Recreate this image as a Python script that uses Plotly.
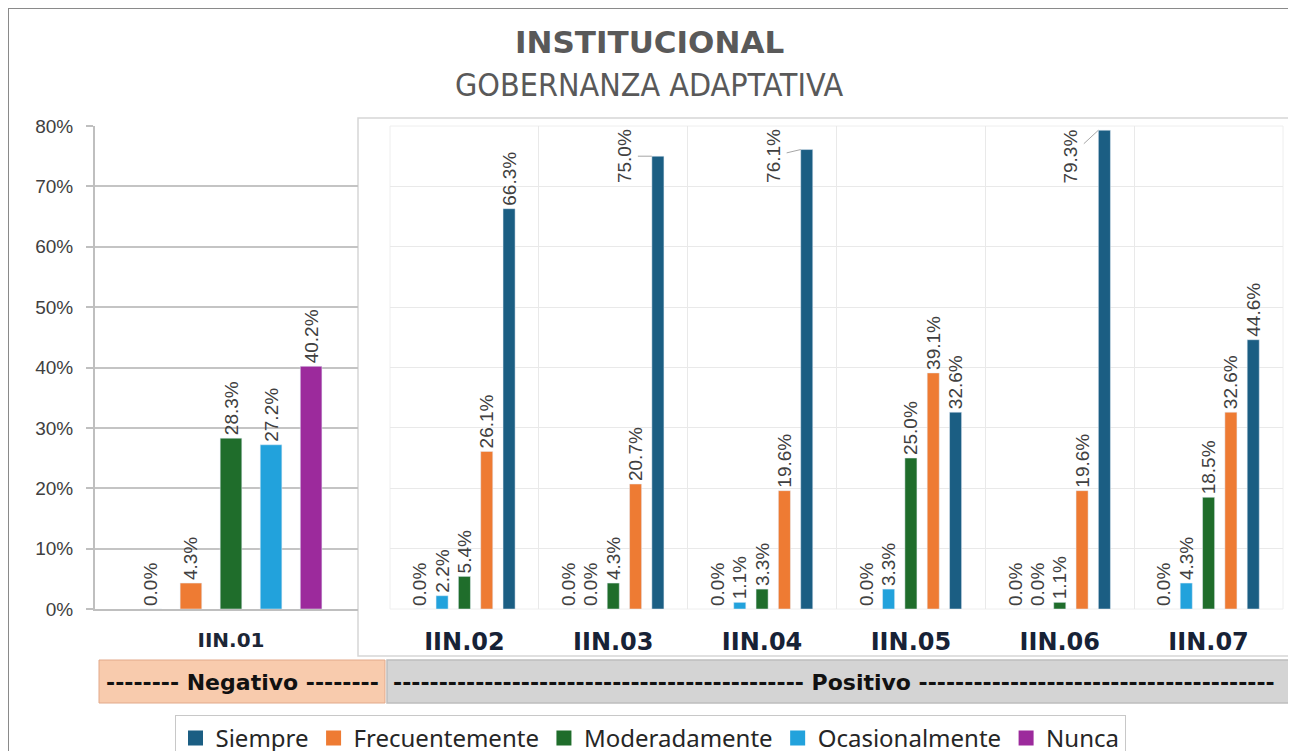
import plotly.graph_objects as go

# page is shown with an 8px body margin, so the figure is sized to the visible area
OFF = 8
W, H = 1296 - OFF, 751 - OFF

# ---------------- data ----------------
series = ["Siempre", "Frecuentemente", "Moderadamente", "Ocasionalmente", "Nunca"]
colors = {"Siempre": "#1b5e83", "Frecuentemente": "#ee7b33", "Moderadamente": "#1f6d2b",
          "Ocasionalmente": "#22a2dc", "Nunca": "#9c2a9c"}

neg_categories = ["IIN.01"]
neg_siempre = [0.000]
neg_frecuentemente = [0.043]
neg_moderadamente = [0.283]
neg_ocasionalmente = [0.272]
neg_nunca = [0.402]

pos_categories = ["IIN.02", "IIN.03", "IIN.04", "IIN.05", "IIN.06", "IIN.07"]
pos_siempre = [0.663, 0.750, 0.761, 0.326, 0.793, 0.446]
pos_frecuentemente = [0.261, 0.207, 0.196, 0.391, 0.196, 0.326]
pos_moderadamente = [0.054, 0.043, 0.033, 0.250, 0.011, 0.185]
pos_ocasionalmente = [0.022, 0.000, 0.011, 0.033, 0.000, 0.043]
pos_nunca = [0.000, 0.000, 0.000, 0.000, 0.000, 0.000]

y_ticks = [0, 0.1, 0.2, 0.3, 0.4, 0.5, 0.6, 0.7, 0.8]

neg_values = {"Siempre": neg_siempre, "Frecuentemente": neg_frecuentemente,
              "Moderadamente": neg_moderadamente, "Ocasionalmente": neg_ocasionalmente,
              "Nunca": neg_nunca}
pos_values = {"Siempre": pos_siempre, "Frecuentemente": pos_frecuentemente,
              "Moderadamente": pos_moderadamente, "Ocasionalmente": pos_ocasionalmente,
              "Nunca": pos_nunca}

# ---------------- layout helpers (reference-window pixels -> paper) ----------------
def fx(px):
    return (px - OFF) / W

def fy(py):
    return 1 - (py - OFF) / H

LABEL_FONT = dict(family="Liberation Sans, Arial, sans-serif", size=19, color="#404040")
BARGAP = 0.25
GROUPGAP = 0.46
HIGH = 0.70  # labels above this go to the left of the bar

def fmt(v):
    return f"{v*100:.1f}%"

fig = go.Figure()

# left panel (negative item): Siempre ... Nunca
for s in series:
    vals = neg_values[s]
    fig.add_trace(go.Bar(
        x=neg_categories, y=vals, name=s, marker_color=colors[s],
        text=[fmt(v) for v in vals], textposition="outside", textangle=-90,
        textfont=LABEL_FONT, cliponaxis=False, constraintext="none",
        xaxis="x", yaxis="y", legendgroup=s, showlegend=False,
        hovertemplate="%{x}<br>" + s + ": %{y:.1%}<extra></extra>"))

# right panel (positive items): Nunca ... Siempre
for s in reversed(series):
    vals = pos_values[s]
    fig.add_trace(go.Bar(
        x=pos_categories, y=vals, name=s, marker_color=colors[s],
        text=[fmt(v) if v < HIGH else "" for v in vals], textposition="outside",
        textangle=-90, textfont=LABEL_FONT, cliponaxis=False, constraintext="none",
        xaxis="x2", yaxis="y2", legendgroup=s, showlegend=False,
        hovertemplate="%{x}<br>" + s + ": %{y:.1%}<extra></extra>"))

# legend entries (square swatches, like the reference legend)
for s in series:
    fig.add_trace(go.Scatter(
        x=[None], y=[None], mode="markers", name=s, legendgroup=s, showlegend=True,
        marker=dict(symbol="square", size=15, color=colors[s]),
        xaxis="x", yaxis="y", hoverinfo="skip"))

# geometry of panels (reference pixels)
LEFT_X0, LEFT_X1 = 95, 358
RIGHT_X0, RIGHT_X1 = 390, 1283
Y_TOP, Y_BOT = 126, 609
left_unit = 267
left_center = 231
ydom = [fy(Y_BOT), fy(Y_TOP)]

# left-pointing labels with leader lines for tall Siempre bars in the right panel
cat_px = (RIGHT_X1 - RIGHT_X0) / len(pos_categories)
slot = (1 - BARGAP) * cat_px / len(series)
siempre_offset = 2 * slot
half_bar = slot * (1 - GROUPGAP) / 2
annotations = []
for c, v in zip(pos_categories, pos_siempre):
    if v >= HIGH:
        annotations.append(dict(
            x=c, y=v, xref="x2", yref="y2", xshift=siempre_offset - half_bar,
            text=fmt(v), textangle=-90, font=LABEL_FONT,
            showarrow=True, arrowhead=0, arrowwidth=1, arrowcolor="#a6a6a6",
            axref="pixel", ayref="y2", ax=-28, ay=0.75, standoff=0, startstandoff=2))

# titles
annotations.append(dict(x=fx(649), y=fy(42), xref="paper", yref="paper", showarrow=False,
                        text="INSTITUCIONAL", xanchor="center", yanchor="middle",
                        font=dict(family="DejaVu Sans, sans-serif", size=31, color="#595959", weight="bold")))
annotations.append(dict(x=fx(649), y=fy(85), xref="paper", yref="paper", showarrow=False,
                        text="GOBERNANZA ADAPTATIVA", xanchor="center", yanchor="middle",
                        font=dict(family="Liberation Sans Narrow, DejaVu Sans Condensed, sans-serif",
                                  size=32, color="#595959")))
# banners text
BANNER_FONT = dict(family="DejaVu Sans, sans-serif", size=22, color="#111111", weight="bold")
annotations.append(dict(x=fx(242), y=fy(682), xref="paper", yref="paper", showarrow=False,
                        text="-------- Negativo --------", xanchor="center", yanchor="middle",
                        font=BANNER_FONT))
annotations.append(dict(x=fx(834), y=fy(682), xref="paper", yref="paper", showarrow=False,
                        text="-" * 45 + " Positivo " + "-" * 39, xanchor="center", yanchor="middle",
                        font=BANNER_FONT))

shapes = [
    # outer frame
    dict(type="rect", xref="paper", yref="paper", x0=fx(8), x1=fx(1293), y0=fy(780), y1=fy(8),
         line=dict(color="#8a8a8a", width=2), fillcolor="rgba(0,0,0,0)", layer="below"),
    # inset frame of the positive panel
    dict(type="rect", xref="paper", yref="paper", x0=fx(358), x1=fx(1302), y0=fy(656), y1=fy(118),
         line=dict(color="#d6d6d6", width=1.5), fillcolor="rgba(0,0,0,0)", layer="below"),
    dict(type="rect", xref="paper", yref="paper", x0=fx(RIGHT_X0), x1=fx(RIGHT_X1), y0=fy(Y_BOT), y1=fy(Y_TOP),
         line=dict(color="#eeeeee", width=1), fillcolor="rgba(0,0,0,0)", layer="below"),
    # banners
    dict(type="rect", xref="paper", yref="paper", x0=fx(99), x1=fx(385), y0=fy(703), y1=fy(660),
         line=dict(color="#e2a98a", width=1), fillcolor="#f8cbad", layer="below"),
    dict(type="rect", xref="paper", yref="paper", x0=fx(387), x1=fx(1289), y0=fy(703), y1=fy(660),
         line=dict(color="#bdbdbd", width=1.5), fillcolor="#d4d4d4", layer="below"),
]

fig.update_layout(
    width=W, height=H,
    margin=dict(l=0, r=0, t=0, b=0, autoexpand=False),
    paper_bgcolor="white", plot_bgcolor="white",
    barmode="group", bargap=BARGAP, bargroupgap=GROUPGAP,
    font=dict(family="Liberation Sans, Arial, sans-serif", color="#404040"),
    xaxis=dict(domain=[fx(LEFT_X0), fx(LEFT_X1)], anchor="y", type="category",
               range=[(LEFT_X0 - left_center) / left_unit, (LEFT_X1 - left_center) / left_unit],
               showline=True, linecolor="#bfbfbf", linewidth=2, showgrid=False, ticks="",
               ticklabelstandoff=12,
               tickfont=dict(family="DejaVu Sans, sans-serif", size=20, color="#1c2636", weight="bold")),
    yaxis=dict(domain=ydom, anchor="x", range=[0, 0.8], tickvals=y_ticks, tickformat=".0%",
               showline=True, linecolor="#bfbfbf", linewidth=2, ticks="outside", ticklen=7,
               tickcolor="#bfbfbf", tickwidth=2, showgrid=True, gridcolor="#c4c4c4", gridwidth=1.5,
               zeroline=False, ticklabelstandoff=9,
               tickfont=dict(family="Liberation Sans, Arial, sans-serif", size=19, color="#404040")),
    xaxis2=dict(domain=[fx(RIGHT_X0), fx(RIGHT_X1)], anchor="y2", type="category",
                range=[-0.5, len(pos_categories) - 0.5], showline=False, showgrid=True,
                tickson="boundaries", gridcolor="#e9e9e9", gridwidth=1, ticks="",
                ticklabelstandoff=16,
                tickfont=dict(family="DejaVu Sans, sans-serif", size=24, color="#172236", weight="bold")),
    yaxis2=dict(domain=ydom, anchor="x2", range=[0, 0.8], tickvals=y_ticks, showticklabels=False,
                showline=False, showgrid=True, gridcolor="#e9e9e9", gridwidth=1, zeroline=False),
    legend=dict(orientation="h", x=fx(650), xanchor="center", y=fy(715), yanchor="top",
                bgcolor="white", bordercolor="#c8c8c8", borderwidth=1,
                font=dict(family="Noto Sans, Liberation Sans, sans-serif", size=24, color="#262626"),
                traceorder="normal", itemclick=False, itemdoubleclick=False),
    annotations=annotations, shapes=shapes,
    showlegend=True,
)

fig.write_html("out.html")
